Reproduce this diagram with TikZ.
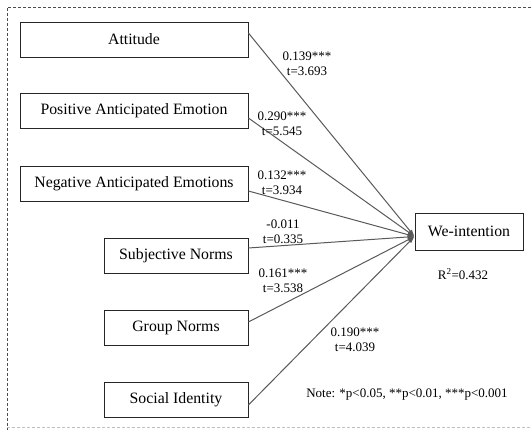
\documentclass[tikz,border=0pt]{standalone}
\usepackage{fontspec}
\setmainfont{Liberation Serif}
\usetikzlibrary{arrows.meta}

\tikzset{
  factor/.style={draw=black!85, line width=0.8pt, minimum height=35pt,
    inner sep=0pt, font=\fontsize{15.8}{18}\selectfont},
  path/.style={draw=black!65, line width=1pt, -{Latex[length=7pt,width=4.5pt]}},
  coef/.style={align=center, font=\fontsize{13}{14.5}\selectfont}
}

\begin{document}
\begin{tikzpicture}[x=1pt,y=-1pt]
  \useasboundingbox (0,0) rectangle (531,430);

  % Dashed frame (right side runs off the picture)
  \draw[black!70, dash pattern=on 3pt off 2pt] (531,7) -- (7,7) -- (7,430);
  \draw[black!25, dash pattern=on 3pt off 2pt] (7,427) -- (531,427);

  % Predictors
  \node[factor, minimum width=228pt] (att) at (134,39.5) {Attitude};
  \node[factor, minimum width=228pt] (pae) at (134,111) {Positive Anticipated Emotion};
  \node[factor, minimum width=228pt] (nae) at (134,183.5) {Negative Anticipated Emotions};
  \node[factor, minimum width=144pt] (sn)  at (176,256) {Subjective Norms};
  \node[factor, minimum width=144pt] (gn)  at (176,328) {Group Norms};
  \node[factor, minimum width=144pt] (si)  at (176,400) {Social Identity};

  % Outcome
  \node[factor, minimum width=108pt, minimum height=37pt] (we) at (469,231.5) {We-intention};
  \coordinate (hub) at ([yshift=-5pt]we.west);

  % Paths
  \draw[path] ([yshift=6.5pt]att.east) -- (hub);
  \draw[path] ([yshift=-7pt]pae.east) -- (hub);
  \draw[path] ([yshift=-7.5pt]nae.east) -- (hub);
  \draw[path] ([yshift=8pt]sn.east) -- (hub);
  \draw[path] ([yshift=6pt]gn.east) -- (hub);
  \draw[path] ([yshift=-5pt]si.east) -- (hub);

  % Coefficients
  \node[coef] (c1) at (307,64)  {0.139***\\t=3.693};
  \node[coef] (c2) at (282,124) {0.290***\\t=5.545};
  \node[coef] (c3) at (282,183) {0.132***\\t=3.934};
  \node[coef] (c4) at (283,232) {-0.011\\t=0.335};
  \node[coef] (c5) at (283,281) {0.161***\\t=3.538};
  \node[coef] (c6) at (355,340) {0.190***\\t=4.039};

  \node[coef] (r2) at (463,274) {R\textsuperscript{2}=0.432};
  \node[coef] (note) at (407,395) {Note: *p<0.05, **p<0.01, ***p<0.001};
\end{tikzpicture}
\end{document}
